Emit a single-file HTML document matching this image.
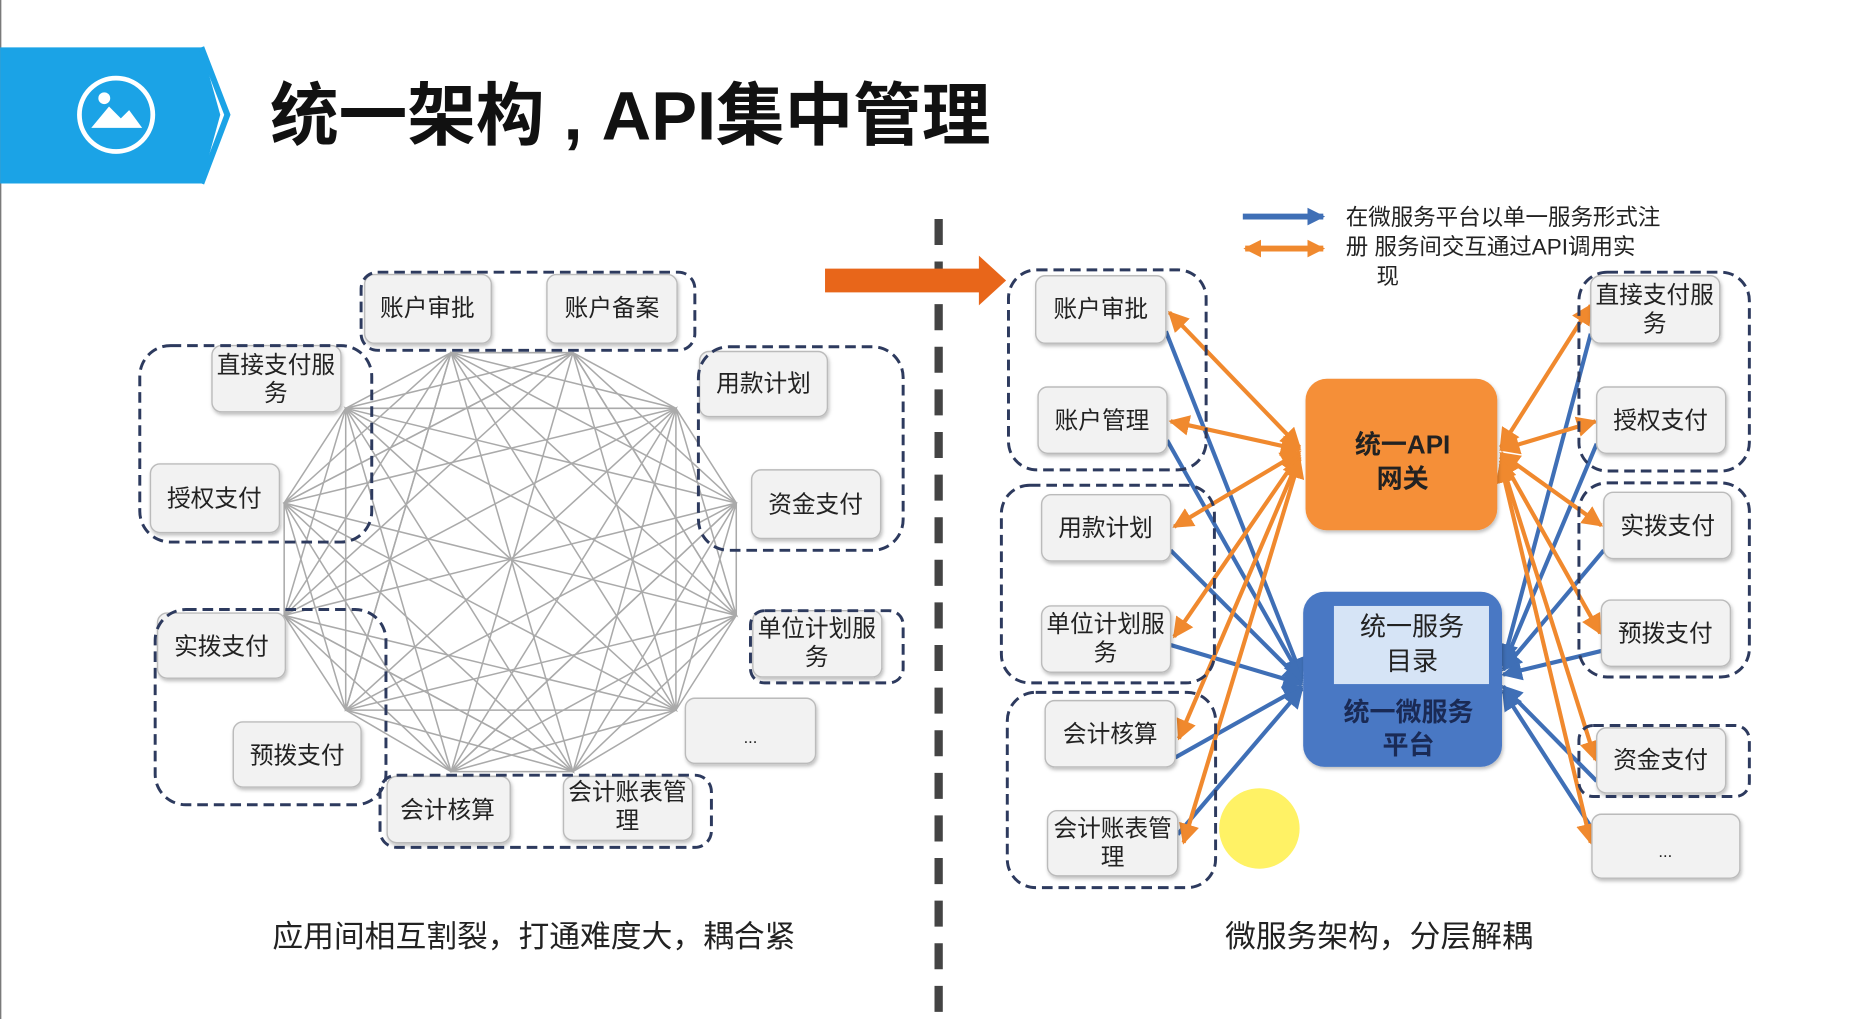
<!DOCTYPE html>
<html><head><meta charset="utf-8"><style>
html,body{margin:0;padding:0;background:#fff;}
svg{display:block;}
text{font-family:"Liberation Sans","Noto Sans CJK SC",sans-serif;}
</style></head><body>
<svg width="1856" height="1019" viewBox="0 0 1568 861" xmlns="http://www.w3.org/2000/svg">
<defs>
<marker id="ob" viewBox="0 0 10 10" refX="9" refY="5" markerWidth="5" markerHeight="5" orient="auto-start-reverse"><path d="M0,0L10,5L0,10z" fill="#f0892e"/></marker>
<marker id="bb" viewBox="0 0 10 10" refX="9" refY="5" markerWidth="5" markerHeight="5" orient="auto"><path d="M0,0L10,5L0,10z" fill="#3f6fb6"/></marker>
<marker id="ob2" viewBox="0 0 10 10" refX="9" refY="5" markerWidth="3" markerHeight="3" orient="auto-start-reverse"><path d="M0,0L10,5L0,10z" fill="#f0892e"/></marker>
<marker id="bb2" viewBox="0 0 10 10" refX="9" refY="5" markerWidth="3" markerHeight="3" orient="auto"><path d="M0,0L10,5L0,10z" fill="#3f6fb6"/></marker>
<filter id="sh" x="-10%" y="-10%" width="130%" height="140%"><feDropShadow dx="1" dy="2" stdDeviation="1.5" flood-color="#000" flood-opacity="0.25"/></filter>
</defs>
<rect width="1568" height="861" fill="#fff"/>
<line x1="0.5" y1="0" x2="0.5" y2="861" stroke="#666" stroke-width="1"/>
<!-- header -->
<polygon points="0,40 170,40 186,97 170,155 0,155" fill="#1ba3e6"/>
<polyline points="170,40 192,97 170,155" fill="none" stroke="#1ba3e6" stroke-width="5"/>
<polyline points="175,40 197,97 175,155" fill="none" stroke="#fff" stroke-width="2"/>
<circle cx="98" cy="97" r="31" fill="none" stroke="#fff" stroke-width="4"/>
<circle cx="88" cy="83" r="5" fill="#fff"/>
<polygon points="77,108 92,90 102,100 109,93 120,108" fill="#fff"/>
<text x="228" y="118" font-size="58" font-weight="bold" fill="#111">统一架构<tspan font-family="Liberation Sans"> , </tspan>API集中管理</text>
<!-- divider -->
<line x1="793" y1="185" x2="793" y2="861" stroke="#444" stroke-width="7" stroke-dasharray="22 14"/>
<polygon points="697,227 827,227 827,216 850,237 827,258 827,247 697,247" fill="#e8661a"/>

<!-- left mesh -->
<g fill="none" stroke="#aaa" stroke-width="1.3">
<polygon points="381,298 484,298 571,345 622,425 622,520 571,600 484,652 381,652 292,600 240,520 240,425 292,345"/>
<polygon points="381,298 571,345 622,520 484,652 292,600 240,425"/>
<polygon points="484,298 622,425 571,600 381,652 240,520 292,345"/>
<polygon points="381,298 622,425 484,652 240,520"/>
<polygon points="484,298 622,520 381,652 240,425"/>
<polygon points="571,345 571,600 292,600 292,345"/>
<polygon points="381,298 622,520 292,600"/>
<polygon points="484,298 571,600 240,520"/>
<polygon points="571,345 484,652 240,425"/>
<polygon points="622,425 381,652 292,345"/>
<polygon points="381,298 571,600 240,425 484,298 622,520 292,345 484,652 240,520 571,345 381,652 622,425 292,600"/>
<path d="M381,298L484,652M484,298L381,652M571,345L292,600M622,425L240,520M622,520L240,425M571,600L292,345"/>
</g>

<g font-size="20" fill="#222" text-anchor="middle">
<!-- left boxes -->
<g filter="url(#sh)" fill="#f2f2f2" stroke="#bbb" stroke-width="1.2">
<rect x="308" y="232" width="107" height="58" rx="8"/>
<rect x="462" y="232" width="110" height="58" rx="8"/>
<rect x="179" y="292" width="109" height="56" rx="8"/>
<rect x="127" y="392" width="109" height="58" rx="8"/>
<rect x="591" y="297" width="108" height="55" rx="8"/>
<rect x="635" y="397" width="109" height="58" rx="8"/>
<rect x="636" y="516" width="109" height="56" rx="8"/>
<rect x="579" y="590" width="110" height="55" rx="8"/>
<rect x="133" y="518" width="108" height="55" rx="8"/>
<rect x="197" y="610" width="108" height="55" rx="8"/>
<rect x="327" y="656" width="104" height="56" rx="8"/>
<rect x="476" y="656" width="109" height="54" rx="8"/>
</g>
<g fill="none" stroke="#2d3a5e" stroke-width="2.5" stroke-dasharray="9 5">
<rect x="305" y="230" width="282" height="66" rx="14"/>
<rect x="118" y="292" width="196" height="166" rx="26"/>
<rect x="590" y="293" width="173" height="172" rx="26"/>
<rect x="634" y="516" width="129" height="61" rx="12"/>
<rect x="131" y="515" width="195" height="165" rx="26"/>
<rect x="321" y="655" width="280" height="61" rx="14"/>
</g>
<text x="361" y="267">账户审批</text>
<text x="517" y="267">账户备案</text>
<text x="233" y="315">直接支付服</text><text x="233" y="339">务</text>
<text x="181" y="428">授权支付</text>
<text x="645" y="331">用款计划</text>
<text x="689" y="433">资金支付</text>
<text x="690" y="538">单位计划服</text><text x="690" y="562">务</text>
<text x="634" y="628" font-size="14">...</text>
<text x="187" y="553">实拨支付</text>
<text x="251" y="645">预拨支付</text>
<text x="378" y="691">会计核算</text>
<text x="530" y="676">会计账表管</text><text x="530" y="700">理</text>
</g>
<text x="451" y="800" font-size="26" fill="#222" text-anchor="middle">应用间相互割裂，打通难度大，耦合紧</text>

<!-- legend -->
<line x1="1050" y1="183" x2="1118" y2="183" stroke="#3f6fb6" stroke-width="5" marker-end="url(#bb2)"/>
<line x1="1052" y1="210" x2="1118" y2="210" stroke="#f0892e" stroke-width="5" marker-start="url(#ob2)" marker-end="url(#ob2)"/>
<g font-size="19" fill="#222">
<text x="1137" y="190">在微服务平台以单一服务形式注</text>
<text x="1137" y="215">册 服务间交互通过API调用实</text>
<text x="1163" y="240">现</text>
</g>

<!-- connectors -->
<g stroke="#3f6fb6" stroke-width="3.5" fill="none" marker-end="url(#bb)">
<line x1="985" y1="280" x2="1100" y2="572"/>
<line x1="986" y1="372" x2="1100" y2="574"/>
<line x1="989" y1="465" x2="1100" y2="576"/>
<line x1="989" y1="545" x2="1100" y2="578"/>
<line x1="993" y1="640" x2="1100" y2="580"/>
<line x1="995" y1="705" x2="1100" y2="582"/>
<line x1="1344" y1="282" x2="1270" y2="560"/>
<line x1="1349" y1="375" x2="1270" y2="563"/>
<line x1="1355" y1="465" x2="1270" y2="566"/>
<line x1="1353" y1="550" x2="1270" y2="570"/>
<line x1="1349" y1="660" x2="1270" y2="580"/>
<line x1="1345" y1="700" x2="1270" y2="584"/>
</g>
<g stroke="#f0892e" stroke-width="3.5" fill="none" marker-start="url(#ob)" marker-end="url(#ob)">
<line x1="1098" y1="378" x2="988" y2="264"/>
<line x1="1098" y1="380" x2="989" y2="356"/>
<line x1="1098" y1="382" x2="992" y2="445"/>
<line x1="1098" y1="384" x2="992" y2="538"/>
<line x1="1098" y1="386" x2="996" y2="624"/>
<line x1="1098" y1="388" x2="1000" y2="712"/>
<line x1="1268" y1="378" x2="1344" y2="258"/>
<line x1="1268" y1="380" x2="1348" y2="356"/>
<line x1="1268" y1="383" x2="1353" y2="444"/>
<line x1="1268" y1="386" x2="1352" y2="535"/>
<line x1="1268" y1="389" x2="1348" y2="642"/>
<line x1="1268" y1="392" x2="1344" y2="712"/>
</g>

<!-- center nodes -->
<rect x="1103" y="320" width="162" height="128" rx="18" fill="#f58f37" filter="url(#sh)"/>
<text x="1185" y="383" font-size="22" font-weight="bold" fill="#222" text-anchor="middle">统一API</text>
<text x="1185" y="412" font-size="22" font-weight="bold" fill="#222" text-anchor="middle">网关</text>
<rect x="1101" y="500" width="168" height="148" rx="18" fill="#4878c4" filter="url(#sh)"/>
<rect x="1127" y="512" width="131" height="66" fill="#d6e4f6"/>
<text x="1193" y="537" font-size="22" fill="#222" text-anchor="middle">统一服务</text>
<text x="1193" y="566" font-size="22" fill="#222" text-anchor="middle">目录</text>
<text x="1190" y="609" font-size="22" font-weight="bold" fill="#1a2a55" text-anchor="middle">统一微服务</text>
<text x="1190" y="637" font-size="22" font-weight="bold" fill="#1a2a55" text-anchor="middle">平台</text>

<!-- right side boxes -->
<g font-size="20" fill="#222" text-anchor="middle">
<g filter="url(#sh)" fill="#f2f2f2" stroke="#bbb" stroke-width="1.2">
<rect x="875" y="233" width="110" height="57" rx="8"/>
<rect x="877" y="327" width="109" height="56" rx="8"/>
<rect x="880" y="418" width="109" height="56" rx="8"/>
<rect x="880" y="512" width="109" height="56" rx="8"/>
<rect x="883" y="592" width="110" height="56" rx="8"/>
<rect x="885" y="685" width="110" height="55" rx="8"/>
<rect x="1344" y="233" width="109" height="57" rx="8"/>
<rect x="1349" y="327" width="109" height="56" rx="8"/>
<rect x="1355" y="416" width="108" height="56" rx="8"/>
<rect x="1353" y="507" width="109" height="56" rx="8"/>
<rect x="1349" y="615" width="109" height="55" rx="8"/>
<rect x="1345" y="688" width="125" height="54" rx="8"/>
</g>
<g fill="none" stroke="#2d3a5e" stroke-width="2.5" stroke-dasharray="9 5">
<rect x="852" y="228" width="167" height="169" rx="24"/>
<rect x="846" y="410" width="180" height="167" rx="24"/>
<rect x="851" y="585" width="176" height="165" rx="24"/>
<rect x="1334" y="230" width="144" height="168" rx="24"/>
<rect x="1334" y="408" width="144" height="164" rx="24"/>
<rect x="1334" y="613" width="144" height="60" rx="12"/>
</g>
<text x="930" y="268">账户审批</text>
<text x="931" y="362">账户管理</text>
<text x="934" y="453">用款计划</text>
<text x="934" y="534">单位计划服</text><text x="934" y="558">务</text>
<text x="938" y="627">会计核算</text>
<text x="940" y="707">会计账表管</text><text x="940" y="731">理</text>
<text x="1398" y="256">直接支付服</text><text x="1398" y="280">务</text>
<text x="1403" y="362">授权支付</text>
<text x="1409" y="451">实拨支付</text>
<text x="1407" y="542">预拨支付</text>
<text x="1403" y="649">资金支付</text>
<text x="1407" y="724" font-size="14">...</text>
</g>
<circle cx="1064" cy="700" r="34" fill="#fff04a" opacity="0.85"/>
<text x="1165" y="800" font-size="26" fill="#222" text-anchor="middle">微服务架构，分层解耦</text>
</svg>
</body></html>
